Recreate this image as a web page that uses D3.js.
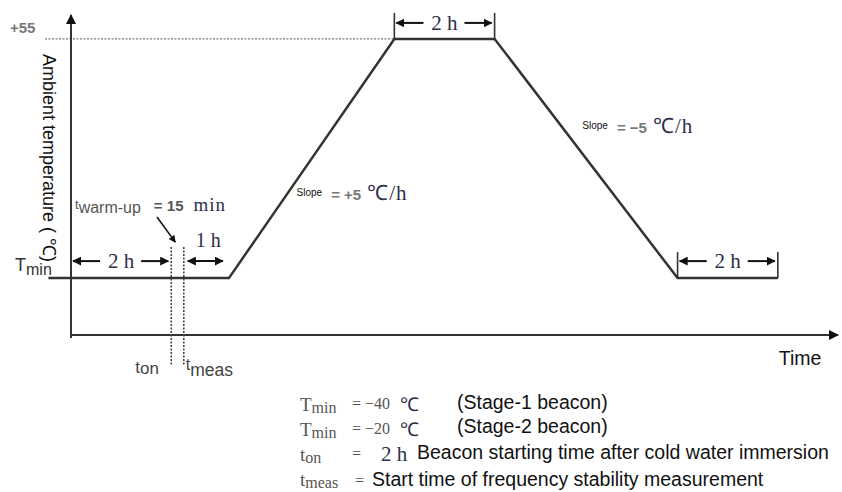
<!DOCTYPE html>
<html>
<head>
<meta charset="utf-8">
<script src="https://cdn.jsdelivr.net/npm/d3@7"></script>
<style>
  body { margin: 0; background: #fff; }
  svg { display: block; }
  .sans { font-family: "Liberation Sans", Arial, sans-serif; }
  .serif { font-family: "Liberation Serif", "Times New Roman", serif; }
</style>
</head>
<body>
<svg id="chart" width="842" height="492"></svg>
<script>
// schematic profile (time in hours, ramps drawn compressed)
const profileTime = [-0.45, 3.15, 6.45, 8.45, 12.1, 14.1]
const profileTemp = [-40, -40, 55, 55, -40, -40]
const topTemp = 55
const minTemp = -40
const tOn = 2
const tMeas = 2.25
// duration brackets: [start, end, label]
const spans = [[0, 2, '2 h'], [2.25, 3.15, '1 h'], [6.45, 8.45, '2 h'], [12.1, 14.1, '2 h']]
const slopeLabels = ['= +5', '= −5']
const legendSymbols = [['T', 'min'], ['T', 'min'], ['t', 'on'], ['t', 'meas']]
const legendValues = ['= −40', '= −20', '=', '=']
const legendNotes = ['(Stage-1 beacon)', '(Stage-2 beacon)', 'Beacon starting time after cold water immersion', 'Start time of frequency stability measurement']

const svg = d3.select('#chart')
const x = d3.scaleLinear().domain([0, 15.3]).range([71, 838])
const y = d3.scaleLinear().domain([-62.6, 64.5]).range([335, 15])
const ink = '#2b2f4a'

const defs = svg.append('defs')
defs.append('marker')
  .attr('id', 'head')
  .attr('viewBox', '0 0 10 10')
  .attr('refX', 9).attr('refY', 5)
  .attr('markerWidth', 4.5).attr('markerHeight', 4.5)
  .attr('orient', 'auto-start-reverse')
  .append('path').attr('d', 'M0,0L10,5L0,10z').attr('fill', '#111')
defs.append('marker')
  .attr('id', 'axisHead')
  .attr('viewBox', '0 0 10 10')
  .attr('refX', 9).attr('refY', 5)
  .attr('markerWidth', 5).attr('markerHeight', 5)
  .attr('orient', 'auto')
  .append('path').attr('d', 'M0,0L10,5L0,10z').attr('fill', '#111')

// +55 reference line
svg.append('line')
  .attr('x1', 45).attr('x2', x(profileTime[2]))
  .attr('y1', y(topTemp)).attr('y2', y(topTemp))
  .attr('stroke', '#777').attr('stroke-width', 1.2)
  .attr('stroke-dasharray', '2,1.5')
svg.append('text').attr('class', 'sans')
  .attr('x', 10).attr('y', y(topTemp) - 6)
  .attr('font-size', 15).attr('font-weight', 'bold').attr('fill', '#777')
  .text('+55')

// axes
svg.append('line')
  .attr('x1', x(0)).attr('x2', x(0))
  .attr('y1', y.range()[0] + 3).attr('y2', y.range()[1])
  .attr('stroke', '#333').attr('stroke-width', 2)
  .attr('marker-end', 'url(#axisHead)')
svg.append('line')
  .attr('x1', x(0)).attr('x2', x.range()[1])
  .attr('y1', y.range()[0]).attr('y2', y.range()[0])
  .attr('stroke', '#333').attr('stroke-width', 2)
  .attr('marker-end', 'url(#axisHead)')
svg.append('text').attr('class', 'sans')
  .attr('x', 800).attr('y', 365)
  .attr('text-anchor', 'middle').attr('font-size', 19.5).attr('fill', '#111')
  .text('Time')
svg.append('text').attr('class', 'sans')
  .attr('transform', 'translate(43, 54) rotate(90)')
  .attr('font-size', 18).attr('fill', '#111')
  .text('Ambient temperature ( ℃)')

// Tmin axis label
const tminLabel = svg.append('text').attr('class', 'sans')
  .attr('x', 15).attr('y', y(minTemp) - 7).attr('fill', '#333')
tminLabel.append('tspan').attr('font-size', 18).text('T')
tminLabel.append('tspan').attr('font-size', 16).attr('dy', 4).text('min')

// profile
const profile = profileTime.map((t, i) => [t, profileTemp[i]])
svg.append('path')
  .datum(profile)
  .attr('d', d3.line().x(d => x(d[0])).y(d => y(d[1])))
  .attr('fill', 'none').attr('stroke', '#333').attr('stroke-width', 2.5)

// ton / tmeas dotted lines
;[tOn, tMeas].forEach(t => {
  svg.append('line')
    .attr('x1', x(t)).attr('x2', x(t))
    .attr('y1', y(minTemp) - 31).attr('y2', 365)
    .attr('stroke', '#444').attr('stroke-width', 1.6)
    .attr('stroke-dasharray', '2,1.5')
})
const tonLabel = svg.append('text').attr('class', 'sans')
  .attr('x', x(tOn) - 36).attr('y', 373).attr('fill', '#444')
tonLabel.append('tspan').attr('font-size', 17).text('t')
tonLabel.append('tspan').attr('font-size', 17).attr('dy', 1).text('on')
const tmeasLabel = svg.append('text').attr('class', 'sans')
  .attr('x', x(tMeas) + 2).attr('y', 370).attr('fill', '#444')
tmeasLabel.append('tspan').attr('font-size', 16).text('t')
tmeasLabel.append('tspan').attr('font-size', 17.5).attr('dy', 6).text('meas')

// duration brackets
function arrow (x1, x2, yy) {
  svg.append('line')
    .attr('x1', x1).attr('x2', x2).attr('y1', yy).attr('y2', yy)
    .attr('stroke', '#111').attr('stroke-width', 2)
    .attr('marker-end', 'url(#head)')
}
spans.forEach(([a, b, label], i) => {
  const base = i === 2 ? y(topTemp) : y(minTemp)
  const yy = i === 2 ? base - 16 : base - 17
  const x1 = x(a)
  const x2 = x(b)
  const mid = (x1 + x2) / 2
  if (i === 1) {
    // double arrow with label above
    svg.append('line')
      .attr('x1', x1 + 4).attr('x2', x2 - 6).attr('y1', yy).attr('y2', yy)
      .attr('stroke', '#111').attr('stroke-width', 2)
      .attr('marker-start', 'url(#head)').attr('marker-end', 'url(#head)')
    svg.append('text').attr('class', 'serif')
      .attr('x', mid + 2).attr('y', yy - 14)
      .attr('text-anchor', 'middle').attr('font-size', 20).attr('fill', ink)
      .text(label)
    return
  }
  if (i !== 0) {
    svg.append('line').attr('x1', x1).attr('x2', x1)
      .attr('y1', base).attr('y2', base - 26)
      .attr('stroke', '#333').attr('stroke-width', 1.6)
    svg.append('line').attr('x1', x2).attr('x2', x2)
      .attr('y1', base).attr('y2', base - 26)
      .attr('stroke', '#333').attr('stroke-width', 1.6)
  }
  arrow(mid - 21, x1 + 2, yy)
  arrow(mid + 20, x2 - 3, yy)
  svg.append('text').attr('class', 'serif')
    .attr('x', mid).attr('y', yy + 7)
    .attr('text-anchor', 'middle').attr('font-size', 21).attr('fill', ink)
    .text(label)
})

// warm-up note
const warm = svg.append('text').attr('class', 'sans')
  .attr('x', 75).attr('y', 211).attr('fill', '#555')
warm.append('tspan').attr('font-size', 13).attr('dy', -2).text('t')
warm.append('tspan').attr('font-size', 16).attr('dy', 4).text('warm-up')
warm.append('tspan').attr('font-size', 15).attr('font-weight', 'bold').attr('dx', 13).attr('dy', -2).text('= 15')
warm.append('tspan').attr('class', 'serif').attr('font-size', 19).attr('fill', ink)
  .attr('dx', 10).attr('letter-spacing', 1).text('min')
svg.append('line')
  .attr('x1', 157).attr('x2', x(tOn) + 4)
  .attr('y1', 217).attr('y2', y(minTemp) - 36)
  .attr('stroke', '#111').attr('stroke-width', 1.6)
  .attr('marker-end', 'url(#head)')

// slope labels
function slopeLabel (t, temp, text) {
  const g = svg.append('text').attr('x', x(t)).attr('y', y(temp))
  g.append('tspan').attr('class', 'sans').attr('font-size', 10).attr('fill', '#111').text('Slope')
  g.append('tspan').attr('class', 'sans').attr('font-size', 15).attr('font-weight', 'bold')
    .attr('fill', '#777').attr('dx', 9).attr('dy', 4).text(text)
  g.append('tspan').attr('class', 'serif').attr('font-size', 21).attr('fill', ink)
    .attr('dx', 6).attr('letter-spacing', 1).text('℃/h')
}
slopeLabel(4.5, -7.4, slopeLabels[0])
slopeLabel(10.2, 19.2, slopeLabels[1])

// legend
const rowY = [411, 436, 461, 488]
legendSymbols.forEach(([main, sub], i) => {
  const t = svg.append('text').attr('class', 'serif')
    .attr('x', 300).attr('y', rowY[i] - (i === 3 ? 2 : 0)).attr('fill', '#555')
  t.append('tspan').attr('font-size', 19).text(main)
  t.append('tspan').attr('font-size', 16).attr('dy', 2).text(sub)
  svg.append('text').attr('class', 'serif')
    .attr('x', i === 3 ? 355 : 352).attr('y', rowY[i] - 2)
    .attr('font-size', 16).attr('fill', '#555')
    .text(legendValues[i])
  if (i < 2) {
    svg.append('text').attr('class', 'serif')
      .attr('x', 400).attr('y', rowY[i])
      .attr('font-size', 19).attr('fill', ink)
      .text('℃')
  }
  svg.append('text').attr('class', 'sans')
    .attr('x', [457, 457, 417, 372][i]).attr('y', rowY[i] - (i === 1 ? 3 : 2))
    .attr('font-size', 19.5).attr('fill', '#111')
    .text(legendNotes[i])
})
svg.append('text').attr('class', 'serif')
  .attr('x', 381).attr('y', rowY[2])
  .attr('font-size', 21).attr('fill', ink)
  .text('2 h')
</script>
</body>
</html>
